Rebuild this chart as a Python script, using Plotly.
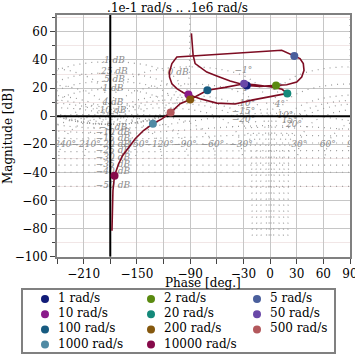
import math
import numpy as np
import plotly.graph_objects as go

W = H = 355

# ---------------- data ----------------
# open-loop Nichols curve (phase in deg, magnitude in dB), in frequency order
curve_phase = [-88.6, -87.8, -86.7, -84.4, -78.8, -71.3, -60.0, -45.0, -33.8, -26.3,
               -11.3, 6.7,
               18.7, 30.0, 35.6, 38.2, 37.4, 33.7, 27.3, 18.7, 13.1,
               -105.0, -110.6, -113.3, -113.3, -110.6, -105.0, -97.6, -92.0,
               -78.8, -60.0, -39.4, -19.2, 0.0, 19.4,
               13.5, 0.0, -16.9, -29.3,
               -50.7, -70.6, -90.0, -101.3, -112.0, -121.9, -132.0, -142.6, -151.9,
               -159.4, -166.2, -170.7, -175.2, -177.0, -177.8, -178.1]
curve_mag = [58.9, 50.5, 43.4, 37.4, 34.6, 31.4, 28.6, 25.0, 23.1, 21.9,
             21.2, 21.9,
             22.4, 24.3, 27.9, 32.6, 37.4, 41.0, 42.9, 45.7, 46.9,
             42.1, 37.4, 31.4, 27.9, 23.1, 19.6, 16.7, 15.5,
             12.4, 9.3, 8.7, 11.6, 14.1, 16.2,
             19.1, 20.9, 22.3, 23.1,
             20.5, 18.4, 11.9, 8.9, 2.6, -1.9, -5.4, -10.2, -16.1,
             -22.1, -28.1, -34.0, -42.4, -53.1, -67.4, -81.6]

# frequency markers
freq_rad = [1, 2, 5, 10, 20, 50, 100, 200, 500, 1000, 10000]
freq_phase = [-26.3, 6.7, 27.3, -92.0, 19.4, -29.3, -70.6, -90.0, -112.0, -132.0, -175.2]
freq_mag = [21.9, 21.9, 42.9, 15.5, 16.2, 23.1, 18.4, 11.9, 2.6, -5.4, -42.4]
freq_colors = ["#121c78", "#5a8a10", "#4a5f9c", "#8a1a8a", "#14897a", "#6a48a8",
               "#175b80", "#85580e", "#b3585c", "#4f8aa4", "#860a4a"]

title_text = ".1e-1 rad/s .. .1e6 rad/s"
x_range = [-240, 90]
y_range = [-100, 72]
x_tickvals = list(range(-240, 91, 30))
x_ticktext = ["", "−210", "", "−150", "", "−90", "", "−30", "0", "30", "60", "90"]

# Nichols grid: closed-loop magnitudes (dB) and closed-loop phases (deg)
grid_M_db = [0.1, 0.25, 0.5, 1, 4, 10, 0, -5, -10, -15, -20, -25, -30, -35, -40, -50]
grid_N_deg = [-1, -4, -10, -15, -20, -30, -60, -90, -120, -150,
              -210, -240, -270, -300, -330, -340, -345, -350, -356, -359]
N_labels_bottom = [-240, -210, -150, -120, -90, -60, -30, 30, 60, 90]
N_labels_left = [-1, -4, -10, -15, -20]
N_labels_right = [1, 4, 10, 15, 20]

SERIF = "DejaVu Serif"
GRID_COL = "#9a9a9a"
CURVE_COL = "#7d0c22"

# ---------------- Nichols grid geometry ----------------
def m_contour(mdb):
    M = 10 ** (mdb / 20)
    if mdb == 0:
        y = np.concatenate([-np.logspace(5, -4, 1500), np.logspace(-4, 5, 1500)])
        G = -0.5 + 1j * y
    else:
        th = np.linspace(1e-5, 2 * np.pi - 1e-5, 8000)
        T = M * np.exp(1j * th)
        G = T / (1 - T)
    ph = np.degrees(np.unwrap(np.angle(G)))
    mid = len(ph) // 2
    ph -= 360 * np.round((ph[mid] + 180) / 360)
    return ph, 20 * np.log10(np.abs(G))


def n_contour(phi, mdb_min):
    m = np.unique(np.concatenate([np.logspace(mdb_min / 20, 4, 3000),
                                  1 + 0.6 * np.linspace(-1, 1, 2001) ** 3]))
    T = m * np.exp(1j * np.radians(phi))
    G = T / (1 - T)
    ph = np.degrees(np.unwrap(np.angle(G)))
    ph += 360 * np.round((phi - ph[0]) / 360)
    return ph, 20 * np.log10(np.abs(G))


def n_low(phi):
    eq = min(abs(phi), abs(phi + 360))
    return -85 if eq <= 20 else -28


def thin(px, py, step=1.2):
    sx, sy = 26.667 / 30, 1.4
    keep = [0]
    lx, ly = px[0], py[0]
    n = len(px)
    for i in range(1, n):
        if math.hypot((px[i] - lx) * sx, (py[i] - ly) * sy) >= step or i == n - 1:
            keep.append(i)
            lx, ly = px[i], py[i]
    return [round(float(px[k]), 2) for k in keep], [round(float(py[k]), 2) for k in keep]


gx, gy = [], []
for mdb in grid_M_db:
    ph, mg = m_contour(mdb)
    for off in (-360, 0, 360):
        a, b = thin(ph + off, mg)
        gx += a + [None]
        gy += b + [None]
for phi in grid_N_deg:
    ph, mg = n_contour(phi, n_low(phi))
    for off in (0, 360):
        a, b = thin(ph + off, mg)
        gx += a + [None]
        gy += b + [None]


def fmt_db(v):
    s = f"{abs(v):g}"
    if s.startswith("0."):
        s = s[1:]
    return ("−" if v < 0 else "") + s + " dB"


def fmt_deg(v):
    return ("−" if v < 0 else "") + f"{abs(v):g}°"


lx, ly, lt, lp = [], [], [], []
for mdb in grid_M_db:
    M = 10 ** (mdb / 20)
    if mdb == 0:
        ph, mg = m_contour(0)
        sel = ph > -180
        i = np.argmin(np.abs(mg[sel] - 31))
        lx.append(float(ph[sel][i]) - 1); ly.append(float(mg[sel][i])); lp.append("middle left")
    else:
        g = M / abs(1 - M) if M > 1 else M / (1 + M)
        lx.append(-177.0); ly.append(20 * math.log10(g) + 0.6); lp.append("middle center")
    lt.append(fmt_db(mdb))


def n_phi(v):
    return (v, 0) if v < 0 else (v - 360, 360)


for v in N_labels_bottom:
    phi, off = n_phi(v)
    ph, mg = n_contour(phi, n_low(phi))
    i = np.argmin(np.abs(mg + 20))
    lx.append(float(ph[i] + off)); ly.append(float(mg[i])); lt.append(fmt_deg(v)); lp.append("middle center")
for v in N_labels_left:
    ph, mg = n_contour(v, n_low(v))
    i = np.argmin(np.abs(ph + 30))
    lx.append(float(ph[i])); ly.append(float(mg[i])); lt.append(fmt_deg(v)); lp.append("top center")
for v in N_labels_right:
    phi, off = n_phi(v)
    ph, mg = n_contour(phi, n_low(phi))
    i = np.argmin(np.abs(ph + off - (v + 7)))
    lx.append(float(ph[i] + off)); ly.append(float(mg[i])); lt.append(fmt_deg(v)); lp.append("top center")

# ---------------- figure ----------------
fig = go.Figure()

fig.add_trace(go.Scatter(x=gx, y=gy, mode="lines", connectgaps=False,
                         line=dict(color=GRID_COL, width=1.2, dash="1px,5px"),
                         hoverinfo="skip", showlegend=False))
fig.add_trace(go.Scatter(x=lx, y=ly, mode="text", text=lt, textposition=lp,
                         textfont=dict(family=SERIF, size=9, color="#8c8c8c", style="italic"),
                         cliponaxis=True, hoverinfo="skip", showlegend=False))
# critical point cross lines
fig.add_trace(go.Scatter(x=[-180, -180, None] + x_range, y=y_range + [None, 0, 0],
                         mode="lines", line=dict(color="black", width=2),
                         hoverinfo="skip", showlegend=False))
fig.add_trace(go.Scatter(x=curve_phase, y=curve_mag, mode="lines",
                         line=dict(color=CURVE_COL, width=1.6),
                         hoverinfo="skip", showlegend=False))
fig.add_trace(go.Scatter(x=freq_phase, y=freq_mag, mode="markers",
                         marker=dict(color=freq_colors, size=8),
                         showlegend=False))

# legend drawn on its own axes (3 columns)
leg_labels = [f"{f} rad/s" for f in freq_rad]
cols = [i % 3 for i in range(len(freq_rad))]
rows = [i // 3 for i in range(len(freq_rad))]
leg_x = [45 + 106 * c for c in cols]
leg_y = [12 + 15.2 * r for r in rows]
fig.add_trace(go.Scatter(x=leg_x, y=leg_y, mode="markers", xaxis="x2", yaxis="y2",
                         marker=dict(color=freq_colors, size=8), showlegend=False,
                         hoverinfo="skip"))
fig.add_trace(go.Scatter(x=[v + 13 for v in leg_x], y=leg_y, mode="text", xaxis="x2", yaxis="y2",
                         text=leg_labels, textposition="middle right",
                         textfont=dict(family=SERIF, size=12, color="black"),
                         showlegend=False, hoverinfo="skip", cliponaxis=False))

x0, x1 = 57 / W, 350 / W
y0, y1 = 1 - 256.7 / H, 1 - 15 / H

fig.update_layout(
    template="none",
    width=W, height=H,
    margin=dict(l=0, r=0, t=0, b=0),
    paper_bgcolor="white", plot_bgcolor="white",
    font=dict(family=SERIF, size=12, color="black"),
    title=dict(text=title_text, x=0.5, xref="paper", y=1 - 8 / H, yref="container",
               yanchor="middle", xanchor="center", font=dict(family=SERIF, size=12)),
    xaxis=dict(domain=[x0, x1], range=x_range, tickvals=x_tickvals, ticktext=x_ticktext,
               automargin=False, ticklabeloverflow="allow",
               showgrid=True, gridcolor="#c6c6c6", gridwidth=1, zeroline=False,
               showline=True, mirror=True, linecolor="#808080", linewidth=2,
               ticks="outside", ticklen=5, tickcolor="#444",
               tickfont=dict(family=SERIF, size=12)),
    yaxis=dict(domain=[y0, y1], range=y_range, tick0=0, dtick=20, automargin=False,
               ticklabeloverflow="allow",
               showgrid=True, gridcolor="#c6c6c6", gridwidth=1, zeroline=False,
               showline=True, mirror=True, linecolor="#808080", linewidth=2,
               ticks="outside", ticklen=5, tickcolor="#444",
               tickfont=dict(family=SERIF, size=12),
               minor=dict(dtick=10, tick0=0, ticks="outside", ticklen=3, tickcolor="#444",
                          showgrid=True, gridcolor="#f1e6e6")),
    xaxis2=dict(domain=[0, 1], range=[0, W], visible=False, fixedrange=True, automargin=False),
    yaxis2=dict(domain=[0, 68 / H], range=[68, 0], visible=False, fixedrange=True, automargin=False),
    showlegend=False,
    annotations=[
        dict(text="Phase [deg.]", x=203 / W, y=1 - 282.5 / H, xref="paper", yref="paper",
             showarrow=False, xanchor="center", yanchor="middle",
             font=dict(family=SERIF, size=12)),
        dict(text="Magnitude [dB]", x=8 / W, y=1 - 136 / H, xref="paper", yref="paper",
             showarrow=False, xanchor="center", yanchor="middle", textangle=-90,
             font=dict(family=SERIF, size=12)),
    ],
    shapes=[dict(type="rect", xref="x2", yref="y2", x0=22, x1=335, y0=2, y1=66,
                 line=dict(color="#808080", width=2), fillcolor="rgba(0,0,0,0)")],
)

fig.write_html("out.html", config={"displayModeBar": False},
               post_script="document.body.style.margin='0px';document.body.style.overflow='hidden';")
